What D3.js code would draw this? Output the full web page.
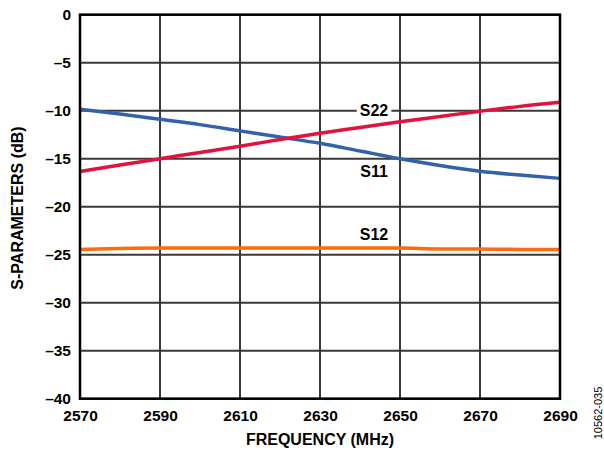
<!DOCTYPE html>
<html><head><meta charset="utf-8">
<script src="https://cdn.jsdelivr.net/npm/d3@7"></script>
<style>body{margin:0;background:#fff}svg{display:block}text{font-family:Arial,"Liberation Sans",sans-serif}</style>
</head><body><svg id="c" width="604" height="450"></svg>
<script>
const freqs = [2570,2580,2590,2600,2610,2620,2630,2640,2650,2660,2670,2680,2690];
const s11 = [-9.85,-10.35,-10.9,-11.45,-12.1,-12.75,-13.4,-14.2,-15.0,-15.7,-16.3,-16.7,-17.05];
const s22 = [-16.33,-15.65,-15.0,-14.35,-13.7,-13.0,-12.35,-11.75,-11.15,-10.6,-10.05,-9.55,-9.13];
const s12 = [-24.45,-24.35,-24.3,-24.3,-24.3,-24.3,-24.3,-24.3,-24.3,-24.4,-24.4,-24.45,-24.45];
const xTicks = [2570,2590,2610,2630,2650,2670,2690];
const yTicks = [0,-5,-10,-15,-20,-25,-30,-35,-40];
const seriesNames = ["S11","S22","S12"];
const seriesColors = ["#3462A8","#E2123F","#FF6A10"];
const labelPos = [[2643.5,-16.95],[2643.5,-10.6],[2643.5,-23.45]];

const svg = d3.select("#c");
const L=80,R=560,T=14.7,B=398.7;
const x = d3.scaleLinear().domain([2570,2690]).range([L,R]);
const y = d3.scaleLinear().domain([-40,0]).range([B,T]);
const fmt = d => d<0 ? "\u2013"+Math.abs(d) : String(d);

// grid
const g = svg.append("g");
g.selectAll("line.v").data(xTicks).join("line")
  .attr("x1",d=>x(d)).attr("x2",d=>x(d)).attr("y1",T).attr("y2",B)
  .attr("stroke","#3a3a3a").attr("stroke-width",2);
g.selectAll("line.h").data(yTicks).join("line")
  .attr("y1",d=>y(d)).attr("y2",d=>y(d)).attr("x1",L).attr("x2",R)
  .attr("stroke","#3a3a3a").attr("stroke-width",2);

// axes labels via d3 axes
const xAxis = svg.append("g").attr("transform",`translate(0,${B})`)
  .call(d3.axisBottom(x).tickValues(xTicks).tickFormat(d3.format("d")).tickSize(0).tickPadding(11));
xAxis.select(".domain").remove();
xAxis.selectAll("text").attr("font-size","15.5px").attr("font-weight","bold").attr("fill","#000").attr("font-family","Arial,'Liberation Sans',sans-serif");
const yAxis = svg.append("g").attr("transform",`translate(${L},0)`)
  .call(d3.axisLeft(y).tickValues(yTicks).tickFormat(fmt).tickSize(0).tickPadding(9));
yAxis.select(".domain").remove();
yAxis.selectAll("text").attr("font-size","15.5px").attr("font-weight","bold").attr("fill","#000").attr("font-family","Arial,'Liberation Sans',sans-serif");

// lines
const series = [s11,s22,s12];
const line = d3.line().x((d,i)=>x(freqs[i])).y(d=>y(d)).curve(d3.curveMonotoneX);
series.forEach((s,k)=>{
  svg.append("path").datum(s).attr("d",line).attr("fill","none")
    .attr("stroke",seriesColors[k]).attr("stroke-width",3.5);
});

// frame
svg.append("rect").attr("x",L).attr("y",T).attr("width",R-L).attr("height",B-T)
  .attr("fill","none").attr("stroke","#000").attr("stroke-width",2.5);

// series labels
seriesNames.forEach((n,k)=>{
  const t = svg.append("text").attr("x",x(labelPos[k][0])).attr("y",y(labelPos[k][1]))
    .attr("text-anchor","middle").attr("font-size","16px").attr("font-weight","bold").text(n);
  if(n==="S22"){
    const bb=t.node().getBBox();
    svg.insert("rect",()=>t.node()).attr("x",bb.x-3).attr("y",bb.y).attr("width",bb.width+6).attr("height",bb.height).attr("fill","#fff");
  }
});

// titles
svg.append("text").attr("x",(L+R)/2).attr("y",445).attr("text-anchor","middle")
  .attr("font-size","16px").attr("font-weight","bold").text("FREQUENCY (MHz)");
svg.append("text").attr("transform","translate(23,208) rotate(-90)").attr("text-anchor","middle")
  .attr("font-size","16px").attr("font-weight","bold").text("S-PARAMETERS (dB)");
svg.append("text").attr("transform","translate(602,413) rotate(-90)").attr("text-anchor","middle")
  .attr("font-size","11px").text("10562-035");
</script></body></html>
